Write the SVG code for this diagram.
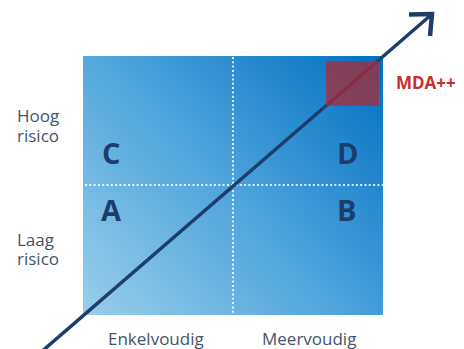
<svg xmlns="http://www.w3.org/2000/svg" width="464" height="349" viewBox="0 0 464 349">
<defs>
<linearGradient id="bg" gradientUnits="userSpaceOnUse" x1="83" y1="330" x2="383" y2="56">
<stop offset="0" stop-color="#9dd0ec"/>
<stop offset="0.5" stop-color="#4ea4db"/>
<stop offset="1" stop-color="#0070c3"/>
</linearGradient>
<style>
.lbl{font-family:"Open Sans","Noto Sans",sans-serif;font-size:17px;fill:#44546a}
.q{font-family:"Open Sans","Noto Sans",sans-serif;font-size:29px;font-weight:bold;fill:#1d3d6b}
.dot{stroke:#ffffff;stroke-width:2;stroke-dasharray:2 2.3;opacity:0.85;fill:none}
</style>
</defs>
<g id="matrix">
<rect x="83" y="56" width="300" height="259" fill="url(#bg)"/>
<line class="dot" x1="233" y1="57" x2="233" y2="315"/>
<line class="dot" x1="85" y1="185" x2="383" y2="185"/>
</g>
<g id="quadrant-C"><text class="q" x="102" y="164">C</text></g>
<g id="quadrant-D"><text class="q" x="337" y="164">D</text></g>
<g id="quadrant-A"><text class="q" x="101" y="221">A</text></g>
<g id="quadrant-B"><text class="q" x="337" y="221">B</text></g>
<g id="axis-labels">
<text class="lbl" x="17" y="122">Hoog<tspan x="17" y="142">risico</tspan></text>
<text class="lbl" x="17" y="246">Laag<tspan x="17" y="265">risico</tspan></text>
<text class="lbl" x="108" y="345">Enkelvoudig</text>
<text class="lbl" x="262" y="345">Meervoudig</text>
</g>
<g id="connectors">
<line x1="40" y1="353" x2="431" y2="15" stroke="#1d3d6b" stroke-width="3.5"/>
<polyline points="409,14.5 432,14 430,36" fill="none" stroke="#1d3d6b" stroke-width="4.5"/>
</g>
<g id="mda">
<rect x="326" y="61" width="53" height="45" fill="#b02a30" opacity="0.72"/>
<text x="396" y="89" font-family="Open Sans, Noto Sans, sans-serif" font-size="17" font-weight="bold" fill="#c9302c">MDA++</text>
</g>
</svg>
